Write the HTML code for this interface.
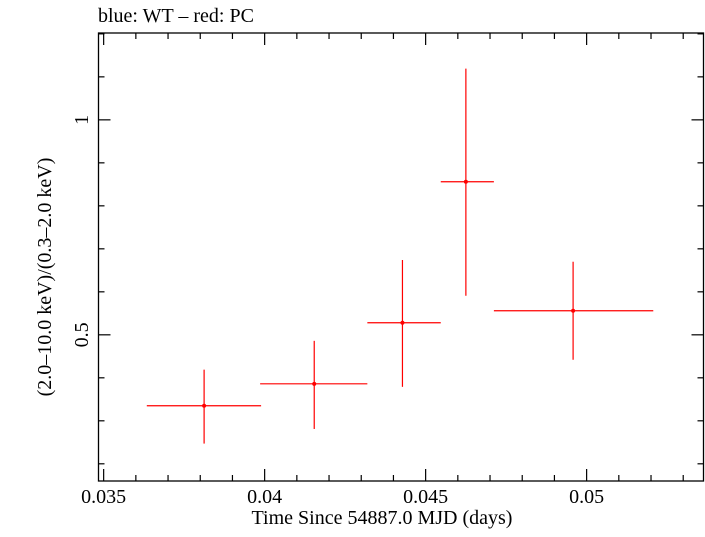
<!DOCTYPE html>
<html><head><meta charset="utf-8"><style>
body{margin:0;background:#fff}
svg text{font-family:"Liberation Serif",serif;fill:#000}
</style></head><body>
<svg id="c" width="705" height="532" xmlns="http://www.w3.org/2000/svg">
<text x="98" y="22" font-size="20">blue: WT – red: PC</text>
<rect x="98.5" y="33" width="605" height="448" fill="none" stroke="#000" stroke-width="1.3"/>
<g id="ax"></g>
<g id="pts"></g>
<text x="382" y="524" font-size="20" text-anchor="middle">Time Since 54887.0 MJD (days)</text>
<text transform="translate(51,277) rotate(-90)" font-size="20" text-anchor="middle">(2.0–10.0 keV)/(0.3–2.0 keV)</text>
</svg>
<script>
const xVals=[0.03812,0.04154,0.04428,0.04625,0.04958];
const xLo=[0.03634,0.03986,0.04319,0.04547,0.04712];
const xHi=[0.03989,0.04319,0.04547,0.04712,0.05207];
const yVals=[0.335,0.386,0.528,0.856,0.556];
const yLo=[0.247,0.281,0.379,0.591,0.442];
const yHi=[0.419,0.486,0.674,1.119,0.670];
const xTickLabels=["0.035","0.04","0.045","0.05"];
const xTickVals=[0.035,0.04,0.045,0.05];
const yTickLabels=["0.5","1"];
const yTickVals=[0.5,1];
const X0=98.5,X1=703.5,Y0=33,Y1=481;
const xmin=0.03484,xmax=0.05363,ymin=0.16,ymax=1.202;
const sx=v=>X0+(v-xmin)/(xmax-xmin)*(X1-X0);
const sy=v=>Y1-(v-ymin)/(ymax-ymin)*(Y1-Y0);
const NS="http://www.w3.org/2000/svg";
const ax=document.getElementById('ax'),pts=document.getElementById('pts');
function ln(p,x1,y1,x2,y2,c,w){const l=document.createElementNS(NS,'line');l.setAttribute('x1',x1);l.setAttribute('y1',y1);l.setAttribute('x2',x2);l.setAttribute('y2',y2);l.setAttribute('stroke',c);l.setAttribute('stroke-width',w);p.appendChild(l);return l;}
for(let i=35;i<=53;i++){const v=i/1000,x=sx(v),maj=i%5==0,L=maj?12:6;
 const t1=ln(ax,x,Y1,x,Y1-L,'#000',1.2);
 
 
 const t2=ln(ax,x,Y0,x,Y0+L,'#000',1.2);
 
 }
for(let i=2;i<=12;i++){const v=i/10,y=sy(v),maj=i%5==0,L=maj?12:6;
 const t1=ln(ax,X0,y,X0+L,y,'#000',1.2);
 
 
 const t2=ln(ax,X1,y,X1-L,y,'#000',1.2);
 
 }
xTickLabels.forEach((s,i)=>{const t=document.createElementNS(NS,'text');t.setAttribute('x',sx(xTickVals[i]));t.setAttribute('y',503);t.setAttribute('font-size','20');t.setAttribute('text-anchor','middle');t.textContent=s;
 
 
 ax.appendChild(t);});
yTickLabels.forEach((s,i)=>{const t=document.createElementNS(NS,'text');const y=sy(yTickVals[i]);t.setAttribute('transform',`translate(88,${y}) rotate(-90)`);t.setAttribute('font-size','20');t.setAttribute('text-anchor','middle');t.textContent=s;
 
 
 ax.appendChild(t);});
xVals.forEach((v,i)=>{const g=document.createElementNS(NS,'g');
 
 
 ln(g,sx(xLo[i]),sy(yVals[i]),sx(xHi[i]),sy(yVals[i]),'#f00',1.2);
 ln(g,sx(v),sy(yLo[i]),sx(v),sy(yHi[i]),'#f00',1.2);
 const c=document.createElementNS(NS,'circle');c.setAttribute('cx',sx(v));c.setAttribute('cy',sy(yVals[i]));c.setAttribute('r',2);c.setAttribute('fill','#f00');g.appendChild(c);
 pts.appendChild(g);});
</script>
</body></html>
